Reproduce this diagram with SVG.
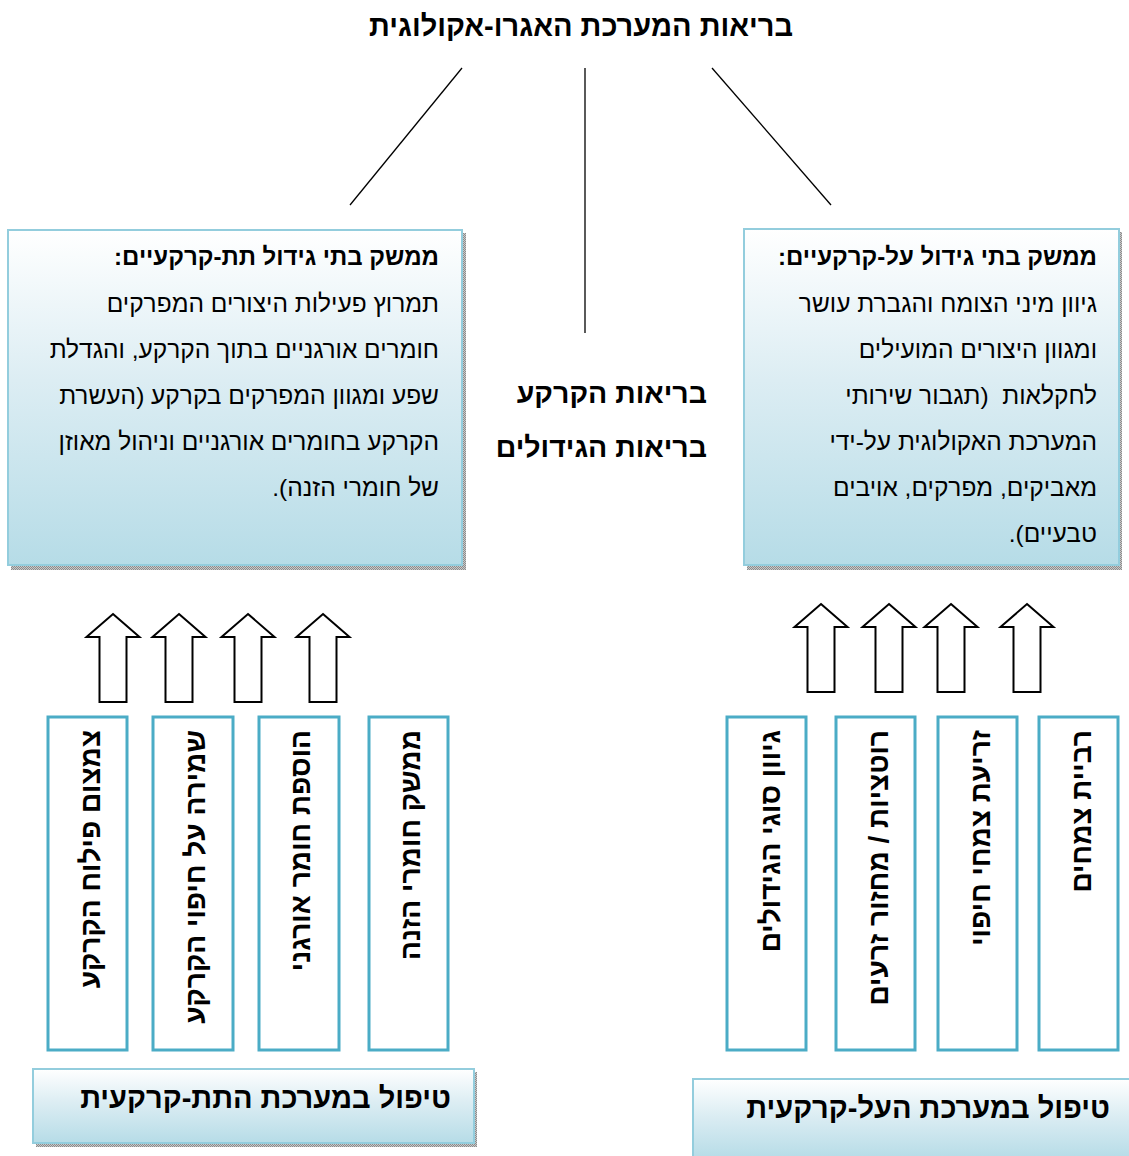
<svg xmlns="http://www.w3.org/2000/svg" width="1129" height="1156" viewBox="0 0 1129 1156">
  <style>
    text { font-family: "Liberation Sans", "DejaVu Sans", sans-serif; fill: #000; direction: rtl; text-anchor: start; }
    .h { font-weight: bold; font-size: 29px; }
    .mid { font-weight: bold; font-size: 28.5px; }
    .bt { font-weight: bold; font-size: 24px; }
    .body { font-size: 24.5px; }
    .vt { font-weight: bold; font-size: 28px; }
    .panel { fill: url(#panelGrad); stroke: #93cddd; stroke-width: 2; }
    .shadow { fill: url(#shadowDots); }
    .col { fill: #fff; stroke: #4bacc6; stroke-width: 3; }
    .arrow { fill: #fff; stroke: #000; stroke-width: 2; stroke-linejoin: miter; }
    .link { stroke: #000; stroke-width: 1.3; fill: none; }
  </style>
  <defs>
    <linearGradient id="panelGrad" x1="0" y1="0" x2="0" y2="1">
      <stop offset="0" stop-color="#ffffff"/>
      <stop offset="0.45" stop-color="#dcedf3"/>
      <stop offset="1" stop-color="#b6dce7"/>
    </linearGradient>
    <pattern id="shadowDots" width="2" height="2" patternUnits="userSpaceOnUse">
      <rect width="2" height="2" fill="#c8c8c8"/>
      <rect width="1" height="1" fill="#8c8c8c"/>
      <rect x="1" y="1" width="1" height="1" fill="#8c8c8c"/>
    </pattern>
    <path id="upArrow" d="M0,0 L26.5,23 L13.5,23 L13.5,88 L-13.5,88 L-13.5,23 L-26.5,23 Z"/>
  </defs>

  <!-- title -->
  <g id="title">
    <text class="h" x="793" y="36">בריאות המערכת האגרו-אקולוגית</text>
  </g>

  <!-- connectors -->
  <g id="connectors">
    <line class="link" x1="462" y1="68" x2="350" y2="205"/>
    <line class="link" x1="585" y1="68" x2="585" y2="333"/>
    <line class="link" x1="712" y1="68" x2="831" y2="205"/>
    <use href="#upArrow" class="arrow" x="113" y="614"/>
    <use href="#upArrow" class="arrow" x="179" y="614"/>
    <use href="#upArrow" class="arrow" x="248" y="614"/>
    <use href="#upArrow" class="arrow" x="323" y="614"/>
    <use href="#upArrow" class="arrow" x="821" y="604"/>
    <use href="#upArrow" class="arrow" x="889" y="604"/>
    <use href="#upArrow" class="arrow" x="951" y="604"/>
    <use href="#upArrow" class="arrow" x="1027" y="604"/>
  </g>

  <!-- soil panel -->
  <g id="soil-panel">
    <rect class="shadow" x="11" y="233" width="455" height="337"/>
    <rect class="panel" x="8" y="230" width="454" height="335"/>
    <text class="bt" x="439" y="265">ממשק בתי גידול תת-קרקעיים:</text>
    <text class="body" x="439" y="312">תמרוץ פעילות היצורים המפרקים</text>
    <text class="body" x="439" y="358">חומרים אורגניים בתוך הקרקע, והגדלת</text>
    <text class="body" x="439" y="404">שפע ומגוון המפרקים בקרקע (העשרת</text>
    <text class="body" x="439" y="450">הקרקע בחומרים אורגניים וניהול מאוזן</text>
    <text class="body" x="439" y="496">של חומרי הזנה).</text>
  </g>

  <!-- above-ground panel -->
  <g id="crop-panel">
    <rect class="shadow" x="747" y="232" width="375" height="338"/>
    <rect class="panel" x="744" y="229" width="375" height="336"/>
    <text class="bt" x="1097" y="265">ממשק בתי גידול על-קרקעיים:</text>
    <text class="body" x="1097" y="312">גיוון מיני הצומח והגברת עושר</text>
    <text class="body" x="1097" y="358">ומגוון היצורים המועילים</text>
    <text class="body" x="1097" y="404" xml:space="preserve">לחקלאות  (תגבור שירותי</text>
    <text class="body" x="1097" y="450">המערכת האקולוגית על-ידי</text>
    <text class="body" x="1097" y="496">מאביקים, מפרקים, אויבים</text>
    <text class="body" x="1097" y="542">טבעיים).</text>
  </g>

  <!-- centre labels -->
  <g id="centre-labels">
    <text class="mid" x="707" y="403">בריאות הקרקע</text>
    <text class="mid" x="707" y="457">בריאות הגידולים</text>
  </g>

  <!-- below-ground practices -->
  <g id="practice-compaction">
    <rect class="col" x="48" y="717" width="79" height="333"/>
    <text class="vt" transform="translate(100,730) rotate(-90)">צמצום פילוח הקרקע</text>
  </g>
  <g id="practice-cover">
    <rect class="col" x="153" y="717" width="80" height="333"/>
    <text class="vt" transform="translate(205,730) rotate(-90)">שמירה על חיפוי הקרקע</text>
  </g>
  <g id="practice-organic">
    <rect class="col" x="259" y="717" width="80" height="333"/>
    <text class="vt" transform="translate(310,730) rotate(-90)">הוספת חומר אורגני</text>
  </g>
  <g id="practice-nutrients">
    <rect class="col" x="369" y="717" width="79" height="333"/>
    <text class="vt" transform="translate(420,730) rotate(-90)">ממשק חומרי הזנה</text>
  </g>

  <!-- above-ground practices -->
  <g id="practice-diversity">
    <rect class="col" x="727" y="717" width="79" height="333"/>
    <text class="vt" transform="translate(780,730) rotate(-90)">גיוון סוגי הגידולים</text>
  </g>
  <g id="practice-rotation">
    <rect class="col" x="836" y="717" width="79" height="333"/>
    <text class="vt" transform="translate(888,730) rotate(-90)">רוטציות / מחזור זרעים</text>
  </g>
  <g id="practice-covercrop">
    <rect class="col" x="938" y="717" width="79" height="333"/>
    <text class="vt" transform="translate(990,730) rotate(-90)">זריעת צמחי חיפוי</text>
  </g>
  <g id="practice-propagation">
    <rect class="col" x="1039" y="717" width="79" height="333"/>
    <text class="vt" transform="translate(1091,730) rotate(-90)">רביית צמחים</text>
  </g>

  <!-- bottom labels -->
  <g id="below-ground-label">
    <rect class="shadow" x="36" y="1072" width="441" height="75"/>
    <rect class="panel" x="33" y="1069" width="441" height="74"/>
    <text class="h" x="451" y="1108">טיפול במערכת התת-קרקעית</text>
  </g>
  <g id="above-ground-label">
    <rect class="panel" x="693" y="1079" width="440" height="80"/>
    <text class="h" x="1110" y="1118">טיפול במערכת העל-קרקעית</text>
  </g>
</svg>
